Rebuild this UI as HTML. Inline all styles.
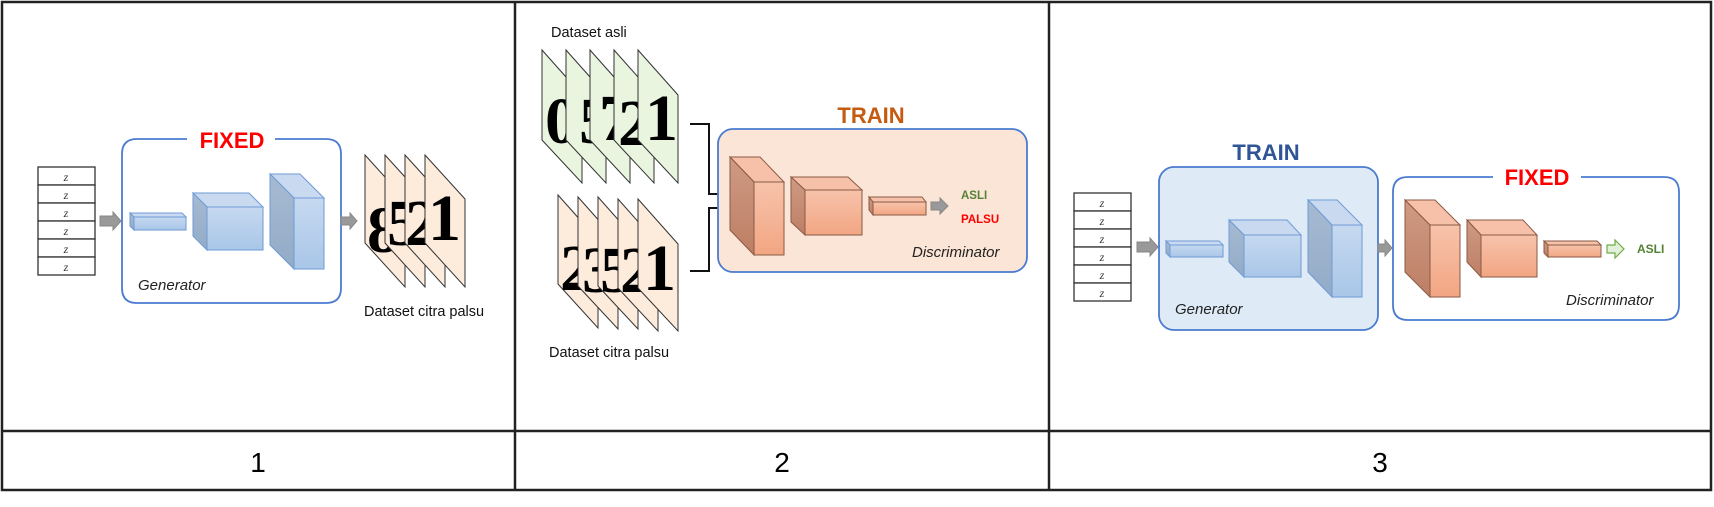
<!DOCTYPE html>
<html><head><meta charset="utf-8"><style>
html,body{margin:0;padding:0;background:#fff;}
svg{display:block;}
</style></head><body>
<svg width="1714" height="507" viewBox="0 0 1714 507" xmlns="http://www.w3.org/2000/svg" font-family="Liberation Sans, sans-serif">
<defs>
<linearGradient id="bf" x1="0" y1="0" x2="0" y2="1"><stop offset="0" stop-color="#c6d9f0"/><stop offset="1" stop-color="#a9c6e8"/></linearGradient>
<linearGradient id="bs" x1="0" y1="0" x2="0" y2="1"><stop offset="0" stop-color="#a7bad2"/><stop offset="1" stop-color="#93abc7"/></linearGradient>
<linearGradient id="of" x1="0" y1="0" x2="0" y2="1"><stop offset="0" stop-color="#f7c3ab"/><stop offset="1" stop-color="#f2a683"/></linearGradient>
<linearGradient id="os" x1="0" y1="0" x2="0" y2="1"><stop offset="0" stop-color="#cf9a83"/><stop offset="1" stop-color="#bd7f65"/></linearGradient>
</defs>
<!-- table -->
<g fill="none" stroke="#222" stroke-width="2.5">
<rect x="2" y="2" width="1709" height="488"/>
<line x1="2" y1="431" x2="1711" y2="431"/>
<line x1="515" y1="2" x2="515" y2="490"/>
<line x1="1049" y1="2" x2="1049" y2="490"/>
</g>
<g font-size="28" text-anchor="middle" fill="#000">
<text x="258" y="472">1</text><text x="782" y="472">2</text><text x="1380" y="472">3</text>
</g>

<!-- PANEL 1 -->
<g stroke="#333" stroke-width="1.3" fill="#fff">
<rect x="38" y="167" width="57" height="18"/><rect x="38" y="185" width="57" height="18"/><rect x="38" y="203" width="57" height="18"/><rect x="38" y="221" width="57" height="18"/><rect x="38" y="239" width="57" height="18"/><rect x="38" y="257" width="57" height="18"/>
</g>
<g font-family="Liberation Serif, serif" font-style="italic" font-size="12" text-anchor="middle" fill="#333">
<text x="66" y="181">z</text><text x="66" y="199">z</text><text x="66" y="217">z</text><text x="66" y="235">z</text><text x="66" y="253">z</text><text x="66" y="271">z</text>
</g>
<polygon points="100,216 113,216 113,212 121,221 113,230 113,226 100,226" fill="#999" stroke="#888"/>
<path d="M187,139 H137 Q122,139 122,154 V288 Q122,303 137,303 H326 Q341,303 341,288 V154 Q341,139 326,139 H275" fill="none" stroke="#4a7bd0" stroke-width="1.8"/>
<text x="232" y="148" font-size="22" font-weight="bold" fill="#f00" text-anchor="middle">FIXED</text>
<g stroke="#6e9bd6" stroke-width="1">
<polygon points="134,217 130,213 182,213 186,217" fill="#c9daf0"/><polygon points="134,217 130,213 130,226 134,230" fill="url(#bs)"/><rect x="134" y="217" width="52" height="13" fill="url(#bf)"/>
<polygon points="207,207 193,193 249,193 263,207" fill="#c9daf0"/><polygon points="207,207 193,193 193,236 207,250" fill="url(#bs)"/><rect x="207" y="207" width="56" height="43" fill="url(#bf)"/>
<polygon points="294,198 270,174 300,174 324,198" fill="#c9daf0"/><polygon points="294,198 270,174 270,245 294,269" fill="url(#bs)"/><rect x="294" y="198" width="30" height="71" fill="url(#bf)"/>
</g>
<text x="138" y="290" font-size="15" font-style="italic" fill="#222">Generator</text>
<polygon points="341,217 350,217 350,213 357,221 350,229 350,225 341,225" fill="#999" stroke="#888"/>
<g stroke="#333" stroke-width="1" font-family="Liberation Serif, serif" font-weight="bold" font-size="66">
<polygon points="365,155 405,199 405,287 365,243" fill="#fdebdc"/><text x="367" y="252" fill="#000" stroke="none">8</text>
<polygon points="385,155 425,199 425,287 385,243" fill="#fdebdc"/><text x="387" y="245" fill="#000" stroke="none">5</text>
<polygon points="405,155 445,199 445,287 405,243" fill="#fdebdc"/><text x="405" y="245" fill="#000" stroke="none">2</text>
<polygon points="425,155 465,199 465,287 425,243" fill="#fdebdc"/><text x="428" y="240" fill="#000" stroke="none">1</text>
</g>
<text x="364" y="316" font-size="14.5" fill="#111">Dataset citra palsu</text>

<!-- PANEL 2 -->
<text x="551" y="37" font-size="14.5" fill="#111">Dataset asli</text>
<g stroke="#333" stroke-width="1" font-family="Liberation Serif, serif" font-weight="bold" font-size="66">
<polygon points="542,50 582,95 582,183 542,140" fill="#e9f5df"/><text x="545" y="143" fill="#000" stroke="none">0</text>
<polygon points="566,50 606,95 606,183 566,140" fill="#e9f5df"/><text x="579" y="143" fill="#000" stroke="none">5</text>
<polygon points="590,50 630,95 630,183 590,140" fill="#e9f5df"/><text x="599" y="140" fill="#000" stroke="none">7</text>
<polygon points="614,50 654,95 654,183 614,140" fill="#e9f5df"/><text x="618" y="145" fill="#000" stroke="none">2</text>
<polygon points="638,50 678,95 678,183 638,140" fill="#e9f5df"/><text x="645" y="140" fill="#000" stroke="none">1</text>
<polygon points="558,195 598,240 598,328 558,284" fill="#fdebdc"/><text x="560" y="290" fill="#000" stroke="none">2</text>
<polygon points="578,197 618,242 618,329 578,286" fill="#fdebdc"/><text x="582" y="292" fill="#000" stroke="none">3</text>
<polygon points="598,197 638,242 638,329 598,286" fill="#fdebdc"/><text x="600" y="292" fill="#000" stroke="none">5</text>
<polygon points="618,199 658,244 658,331 618,288" fill="#fdebdc"/><text x="620" y="292" fill="#000" stroke="none">2</text>
<polygon points="638,199 678,244 678,331 638,288" fill="#fdebdc"/><text x="643" y="290" fill="#000" stroke="none">1</text>
</g>
<text x="549" y="357" font-size="14.5" fill="#111">Dataset citra palsu</text>
<g fill="none" stroke="#111" stroke-width="2">
<polyline points="690,124 709,124 709,194 724,194"/>
<polyline points="690,271 709,271 709,208 724,208"/>
</g>
<polygon points="722,189 730,194 722,199" fill="#111"/><polygon points="722,203 730,208 722,213" fill="#111"/>
<text x="871" y="123" font-size="22" font-weight="bold" fill="#c55a11" text-anchor="middle">TRAIN</text>
<rect x="718" y="129" width="309" height="143" rx="15" fill="#fbe5d6" stroke="#4a7bd0" stroke-width="1.8"/>
<g stroke="#8a5a45" stroke-width="1">
<polygon points="754,182 730,157 760,157 784,182" fill="#f6c1a8"/><polygon points="754,182 730,157 730,230 754,255" fill="url(#os)"/><rect x="754" y="182" width="30" height="73" fill="url(#of)"/>
<polygon points="805,190 791,177 848,177 862,190" fill="#f6c1a8"/><polygon points="805,190 791,177 791,222 805,235" fill="url(#os)"/><rect x="805" y="190" width="57" height="45" fill="url(#of)"/>
<polygon points="873,202 869,197 922,197 926,202" fill="#f6c1a8"/><polygon points="873,202 869,197 869,210 873,215" fill="url(#os)"/><rect x="873" y="202" width="53" height="13" fill="url(#of)"/>
</g>
<polygon points="931,202 940,202 940,198 948,206 940,214 940,210 931,210" fill="#999" stroke="#888"/>
<text x="961" y="199" font-size="11.5" font-weight="bold" fill="#548235">ASLI</text>
<text x="961" y="223" font-size="11.5" font-weight="bold" fill="#f00">PALSU</text>
<text x="912" y="257" font-size="15" font-style="italic" fill="#222">Discriminator</text>

<!-- PANEL 3 -->
<g stroke="#333" stroke-width="1.3" fill="#fff">
<rect x="1074" y="193" width="57" height="18"/><rect x="1074" y="211" width="57" height="18"/><rect x="1074" y="229" width="57" height="18"/><rect x="1074" y="247" width="57" height="18"/><rect x="1074" y="265" width="57" height="18"/><rect x="1074" y="283" width="57" height="18"/>
</g>
<g font-family="Liberation Serif, serif" font-style="italic" font-size="12" text-anchor="middle" fill="#333">
<text x="1102" y="207">z</text><text x="1102" y="225">z</text><text x="1102" y="243">z</text><text x="1102" y="261">z</text><text x="1102" y="279">z</text><text x="1102" y="297">z</text>
</g>
<polygon points="1137,242 1150,242 1150,238 1158,247 1150,256 1150,252 1137,252" fill="#999" stroke="#888"/>
<text x="1266" y="160" font-size="22" font-weight="bold" fill="#2f5597" text-anchor="middle">TRAIN</text>
<rect x="1159" y="167" width="219" height="163" rx="15" fill="#deebf7" stroke="#4a7bd0" stroke-width="1.8"/>
<g stroke="#6e9bd6" stroke-width="1">
<polygon points="1170,245 1166,241 1219,241 1223,245" fill="#c9daf0"/><polygon points="1170,245 1166,241 1166,253 1170,257" fill="url(#bs)"/><rect x="1170" y="245" width="53" height="12" fill="url(#bf)"/>
<polygon points="1244,235 1229,220 1287,220 1301,235" fill="#c9daf0"/><polygon points="1244,235 1229,220 1229,262 1244,277" fill="url(#bs)"/><rect x="1244" y="235" width="57" height="42" fill="url(#bf)"/>
<polygon points="1332,225 1308,200 1337,200 1362,225" fill="#c9daf0"/><polygon points="1332,225 1308,200 1308,272 1332,297" fill="url(#bs)"/><rect x="1332" y="225" width="30" height="72" fill="url(#bf)"/>
</g>
<text x="1175" y="314" font-size="15" font-style="italic" fill="#222">Generator</text>
<polygon points="1378,244 1385,244 1385,240 1392,248 1385,256 1385,252 1378,252" fill="#999" stroke="#888"/>
<path d="M1493,177 H1408 Q1393,177 1393,192 V305 Q1393,320 1408,320 H1664 Q1679,320 1679,305 V192 Q1679,177 1664,177 H1581" fill="none" stroke="#4a7bd0" stroke-width="1.8"/>
<text x="1537" y="185" font-size="22" font-weight="bold" fill="#f00" text-anchor="middle">FIXED</text>
<g stroke="#8a5a45" stroke-width="1">
<polygon points="1430,225 1405,200 1435,200 1460,225" fill="#f6c1a8"/><polygon points="1430,225 1405,200 1405,272 1430,297" fill="url(#os)"/><rect x="1430" y="225" width="30" height="72" fill="url(#of)"/>
<polygon points="1481,235 1467,220 1523,220 1537,235" fill="#f6c1a8"/><polygon points="1481,235 1467,220 1467,262 1481,277" fill="url(#os)"/><rect x="1481" y="235" width="56" height="42" fill="url(#of)"/>
<polygon points="1548,245 1544,241 1597,241 1601,245" fill="#f6c1a8"/><polygon points="1548,245 1544,241 1544,253 1548,257" fill="url(#os)"/><rect x="1548" y="245" width="53" height="12" fill="url(#of)"/>
</g>
<polygon points="1607,245 1615,245 1615,240 1624,249 1615,258 1615,253 1607,253" fill="#e2f0d9" stroke="#70ad47" stroke-width="1.2"/>
<text x="1637" y="253" font-size="12" font-weight="bold" fill="#548235">ASLI</text>
<text x="1566" y="305" font-size="15" font-style="italic" fill="#222">Discriminator</text>
</svg>
</body></html>
